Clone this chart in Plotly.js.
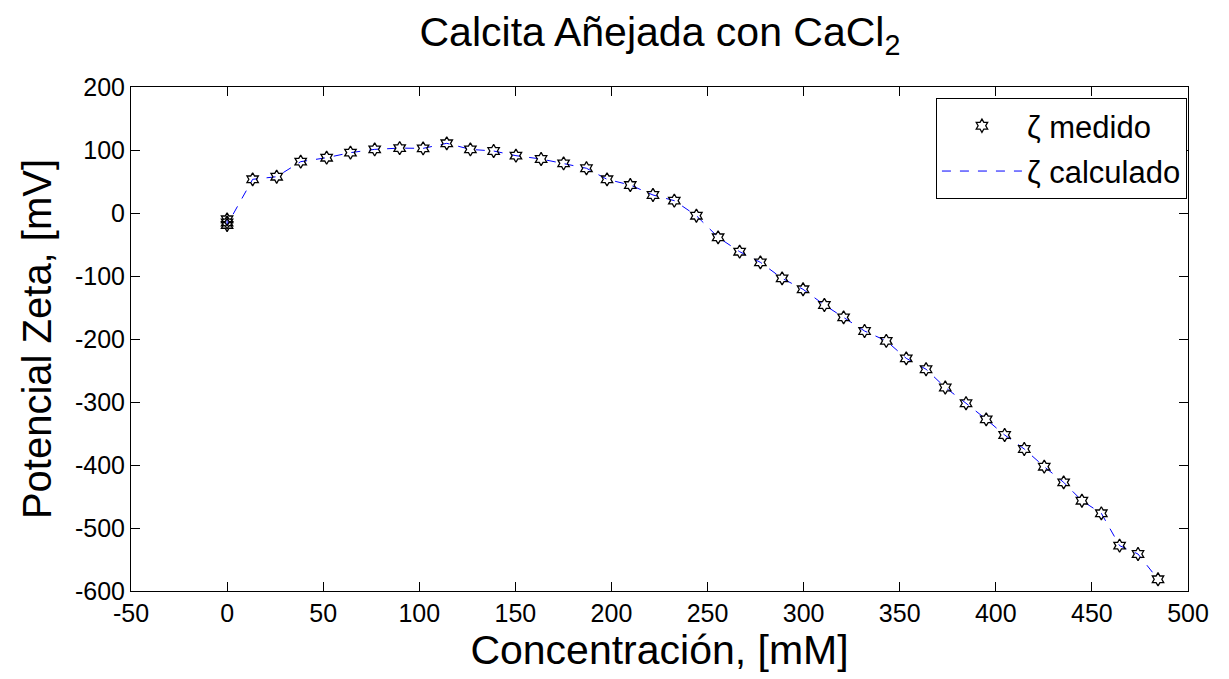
<!DOCTYPE html>
<html>
<head>
<meta charset="utf-8">
<script src="https://cdn.plot.ly/plotly-3.0.1.min.js"></script>
<style>html,body{margin:0;padding:0;background:#fff;}#chart{width:1229px;height:679px;}</style>
</head>
<body>
<div id="chart"></div>
<script>
// Concentration [mM]
const concentracion = [0, 0, 0, 13.3, 25.8, 38.3, 51.8, 64.2, 76.8, 89.8, 102, 114.3, 126.6, 138.7, 150.3, 163.4, 175.1, 187, 197.7, 209.8, 221.6, 232.7, 244.2, 255.5, 266.7, 277.5, 288.8, 299.7, 310.8, 320.8, 331.7, 343, 353.4, 363.7, 373.7, 384.5, 395, 404.6, 414.8, 425.2, 435.3, 444.8, 454.9, 464.4, 474, 484.4];
// Measured zeta potential [mV]
const zetaMedido = [-10, -15, -19, 53.5, 57.6, 81.5, 87.8, 95.8, 101, 103, 102.6, 110.6, 101, 98.4, 91, 85.7, 78.8, 71, 53.5, 44.4, 28.6, 19.6, -4.3, -38.6, -61.4, -78.3, -103.7, -121.1, -146, -165.6, -187.3, -203, -230.7, -248, -277, -302, -327.5, -352.4, -374.6, -402.7, -427.5, -456.7, -476.7, -528, -541.3, -581.4];
// Calculated zeta potential [mV]
const zetaCalculado = [-10, -15, -19, 53.5, 57.6, 81.5, 87.8, 95.8, 101, 103, 102.6, 110.6, 101, 98.4, 91, 85.7, 78.8, 71, 53.5, 44.4, 28.6, 19.6, -4.3, -38.6, -61.4, -78.3, -103.7, -121.1, -146, -165.6, -187.3, -203, -230.7, -248, -277, -302, -327.5, -352.4, -374.6, -402.7, -427.5, -456.7, -476.7, -528, -541.3, -581.4];

// Tick values and labels
const xTickVals = [-50, 0, 50, 100, 150, 200, 250, 300, 350, 400, 450, 500];
const xTickText = ['-50', '0', '50', '100', '150', '200', '250', '300', '350', '400', '450', '500'];
const yTickVals = [-600, -500, -400, -300, -200, -100, 0, 100, 200];
const yTickText = ['-600', '-500', '-400', '-300', '-200', '-100', '0', '100', '200'];

const FONT = 'Liberation Sans, Arial, sans-serif';

const traces = [
  {
    x: concentracion, y: zetaCalculado, type: 'scatter', mode: 'lines',
    name: 'ζ calculado', legendrank: 2, legendgroup: 'b',
    line: {color: '#0000ff', dash: 'dash', width: 1}
  },
  {
    x: concentracion, y: zetaMedido, type: 'scatter', mode: 'markers',
    name: 'ζ medido', legendrank: 1, legendgroup: 'a',
    marker: {symbol: 'hexagram-open', size: 10, color: '#000000', line: {color: '#000000', width: 1.3}}
  }
];

const axisCommon = {
  showline: true, linecolor: '#000', linewidth: 1, mirror: 'ticks',
  ticks: 'inside', ticklen: 9, tickcolor: '#000', tickwidth: 1,
  showgrid: false, zeroline: false, tickmode: 'array',
  tickfont: {family: FONT, size: 25, color: '#000'}
};

const layout = {
  width: 1229, height: 679,
  paper_bgcolor: '#fff', plot_bgcolor: '#fff',
  margin: {l: 131, r: 41, t: 87, b: 88},
  title: {text: 'Calcita Añejada con CaCl<sub>2</sub>', font: {family: FONT, size: 41, color: '#000'}, x: 0.537, xanchor: 'center', y: 0.953, yanchor: 'middle'},
  xaxis: Object.assign({}, axisCommon, {
    range: [-50, 500], tickvals: xTickVals, ticktext: xTickText,
    title: {text: 'Concentración, [mM]', font: {family: FONT, size: 41, color: '#000'}, standoff: 6}
  }),
  yaxis: Object.assign({}, axisCommon, {
    range: [-600, 200], tickvals: yTickVals, ticktext: yTickText,
    title: {text: 'Potencial Zeta, [mV]', font: {family: FONT, size: 40, color: '#000'}, standoff: 10}
  }),
  showlegend: true,
  legend: {
    x: 0.999, y: 0.978, xanchor: 'right', yanchor: 'top',
    bgcolor: '#fff', bordercolor: '#000', borderwidth: 1,
    font: {family: FONT, size: 31, color: '#000'},
    itemwidth: 80, tracegroupgap: 2, traceorder: 'grouped'
  }
};

Plotly.newPlot('chart', traces, layout, {displayModeBar: false, staticPlot: true});
</script>
</body>
</html>
